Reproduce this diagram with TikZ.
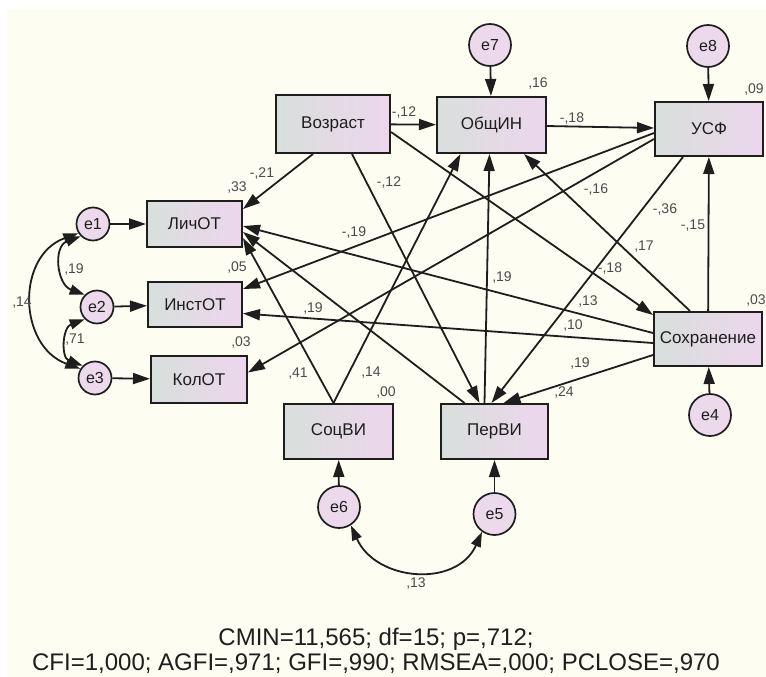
\documentclass[tikz,border=0pt]{standalone}
\usepackage{fontspec}
\setmainfont{Liberation Sans}
\usetikzlibrary{arrows.meta}
\definecolor{paper}{RGB}{254,253,241}
\definecolor{boxleft}{RGB}{216,223,219}
\definecolor{boxright}{RGB}{237,214,237}
\definecolor{errfill}{RGB}{236,217,236}
\definecolor{ink}{RGB}{30,30,30}
\definecolor{coefgray}{RGB}{75,75,75}
\def\Vozrast{Возраст}
\def\ObshIN{ОбщИН}
\def\USF{УСФ}
\def\Sohr{Сохранение}
\def\LichOT{ЛичОТ}
\def\InstOT{ИнстОТ}
\def\KolOT{КолОТ}
\def\SocVI{СоцВИ}
\def\PerVI{ПерВИ}
\newcommand{\effect}[2]{\draw[semarrow] (#1) -- (#2)}
\newcommand{\covar}[3]{\draw[covarrow] (#1) to[#3] (#2)}

\begin{document}
\begin{tikzpicture}[x=1pt, y=1pt,
                    var/.style={
                        draw=ink, line width=2pt,
                        left color=boxleft, right color=boxright,
                        minimum width=108pt, minimum height=55pt,
                        inner sep=0pt, text=ink,
                        font=\fontsize{17pt}{17pt}\selectfont
                    },
                    outvar/.style={var,
                        minimum width=95pt, minimum height=46pt
                    },
                    err/.style={
                        circle, draw=ink, line width=1.7pt, fill=errfill,
                        minimum size=42pt, inner sep=0pt, text=ink,
                        font=\fontsize{16pt}{16pt}\selectfont
                    },
                    smallerr/.style={err, minimum size=33pt},
                    coef/.style={
                        inner sep=0pt, text=coefgray,
                        font=\fontsize{14pt}{14pt}\selectfont
                    },
                    semarrow/.style={
                        draw=ink, line width=1.8pt,
                        -{Triangle[length=17pt,width=11pt]}
                    },
                    covarrow/.style={
                        draw=ink, line width=1.8pt,
                        {Triangle[length=15pt,width=10pt]}-{Triangle[length=15pt,width=10pt]}
                    }]
    \useasboundingbox (0,0) rectangle (766,-677);
    \fill[white] (0,0) rectangle (766,-677);
    \fill[paper] (7,-9) rectangle (766,-677);

    \node[var, minimum width=114pt, minimum height=58pt] (vozrast) at (333,-124) {\Vozrast};
    \node[var, minimum width=109pt, minimum height=56pt] (obshin) at (491.5,-125) {\ObshIN};
    \node[var, minimum height=54pt] (usf) at (709,-129) {\USF};
    \node[var, minimum height=54pt] (sohr) at (708,-339) {\Sohr};
    \node[outvar] (lichot) at (194.5,-224) {\LichOT};
    \node[outvar, minimum width=94pt, minimum height=45pt] (instot) at (195,-304.5) {\InstOT};
    \node[outvar, minimum width=96pt, minimum height=47pt] (kolot) at (199,-379.5) {\KolOT};
    \node[var, minimum width=109pt] (socvi) at (338.5,-431.5) {\SocVI};
    \node[var, minimum width=107pt] (pervi) at (494.5,-431.5) {\PerVI};

    \node[smallerr] (e1) at (93,-224) {e1};
    \node[smallerr] (e2) at (97,-307) {e2};
    \node[smallerr] (e3) at (95,-378) {e3};
    \node[err] (e7) at (490,-45) {e7};
    \node[err] (e8) at (708,-46) {e8};
    \node[err] (e4) at (710,-415) {e4};
    \node[err] (e6) at (339,-507) {e6};
    \node[err] (e5) at (494.5,-514) {e5};

    \effect{e1}{lichot};
    \effect{e2}{instot};
    \effect{e3}{kolot};
    \effect{e7}{obshin};
    \effect{e8}{usf};
    \effect{e4}{sohr};
    \effect{e6}{socvi};
    \effect{e5}{pervi};

    \effect{vozrast}{obshin};
    \effect{[xshift=-20pt]vozrast.south}{[yshift=-9pt]lichot.north east};
    \effect{[xshift=19pt]vozrast.south}{[xshift=-15pt]pervi.north};
    \effect{[yshift=-8pt]vozrast.east}{[yshift=-4pt]sohr.north west};
    \effect{obshin}{usf};
    \effect{[yshift=-4pt]usf.west}{[yshift=-8pt]instot.north east};
    \effect{[yshift=-10pt]usf.west}{[yshift=7pt]kolot.east};
    \effect{[xshift=-26pt]usf.south}{[xshift=-3pt]pervi.north};
    \effect{sohr}{usf};
    \effect{[xshift=-18pt]sohr.north}{[xshift=-23pt]obshin.south east};
    \effect{[yshift=6pt]sohr.west}{[yshift=-2pt]lichot.east};
    \effect{[yshift=-4pt]sohr.west}{[yshift=-9pt]instot.east};
    \effect{[yshift=-16pt]sohr.west}{[xshift=9pt]pervi.north};
    \effect{[xshift=-5pt]socvi.north}{[yshift=-14pt]lichot.east};
    \effect{[xshift=-5pt]socvi.north}{[xshift=-31pt]obshin.south};
    \effect{[xshift=-10pt]pervi.north}{[xshift=-2pt]obshin.south};
    \effect{[xshift=-30pt]pervi.north}{[yshift=-8pt]lichot.east};

    \covar{e1.225}{e2.135}{out=200, in=160, looseness=1.3};
    \covar{e2.225}{e3.135}{out=200, in=160, looseness=1.3};
    \covar{e1.212}{e3.148}{out=200, in=160, looseness=1.25};
    \covar{e6.-57}{e5.-125}{out=-66, in=-114, looseness=1.2};

    \node[coef] (r2lich) at (237,-188) {,33};
    \node[coef] (r2inst) at (237,-268) {,05};
    \node[coef] (r2kol) at (241,-343) {,03};
    \node[coef] (r2soc) at (386,-393) {,00};
    \node[coef] (r2per) at (564,-393) {,24};
    \node[coef] (r2obsh) at (538,-84) {,16};
    \node[coef] (r2usf) at (754,-90) {,09};
    \node[coef] (r2sohr) at (756,-301) {,03};

    \node[coef] (wVozLich) at (262,-174) {-,21};
    \node[coef] (wVozPer) at (389,-183) {-,12};
    \node[coef] (wVozObsh) at (404,-113) {-,12};
    \node[coef] (wObshUsf) at (572,-119) {-,18};
    \node[coef] (wUsfInst) at (354,-233) {-,19};
    \node[coef] (wUsfKol) at (596,-190) {-,16};
    \node[coef] (wUsfPer) at (665,-210) {-,36};
    \node[coef] (wSohrUsf) at (693,-226) {-,15};
    \node[coef] (wSohrObsh) at (644,-247) {,17};
    \node[coef] (wSohrLich) at (610,-269) {-,18};
    \node[coef] (wPerObsh) at (502,-278) {,19};
    \node[coef] (wVozSohr) at (588,-302) {,13};
    \node[coef] (wSohrInst) at (573,-326) {,10};
    \node[coef] (wSohrPer) at (580,-364) {,19};
    \node[coef] (wInst) at (313,-309) {,19};
    \node[coef] (wSocLich) at (298,-374) {,41};
    \node[coef] (wSocObsh) at (371,-373) {,14};

    \node[coef] (c12) at (74,-270) {,19};
    \node[coef] (c23) at (75,-340) {,71};
    \node[coef] (c13) at (22,-303) {,14};
    \node[coef] (c65) at (416,-584) {,13};

    \node[align=center, inner sep=0pt, text=ink,
          font=\fontsize{24pt}{25pt}\selectfont] (fit) at (376,-651)
        {CMIN=11,565; df=15; p=,712;\\CFI=1,000; AGFI=,971; GFI=,990; RMSEA=,000; PCLOSE=,970};
\end{tikzpicture}
\end{document}
